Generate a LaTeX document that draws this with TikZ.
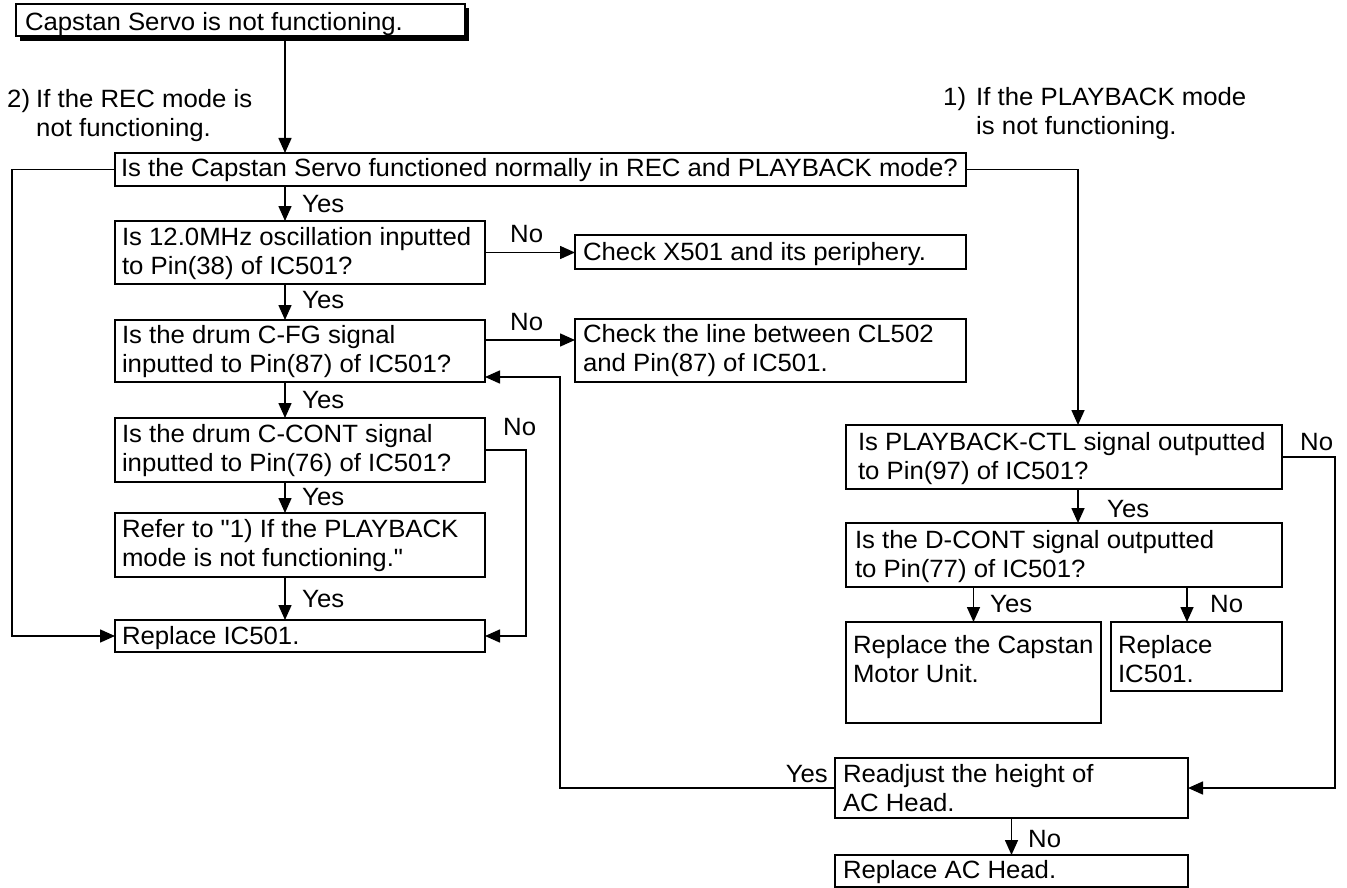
\documentclass[tikz,border=0pt]{standalone}
\usepackage{fontspec}
\setmainfont{Liberation Sans}[FakeStretch=1.03,Ligatures=TeXOff]
\usetikzlibrary{arrows.meta,calc}
\newcommand\twol[2]{\vtop{\hbox{#1}\hbox{#2}}}
\begin{document}
\begin{tikzpicture}[x=1pt,y=-1pt,
  font=\fontsize{25}{29}\selectfont,
  box/.style={draw=black, line width=1.6pt, fill=white, inner sep=0pt, outer sep=0pt, anchor=north west},
  txt/.style={anchor=base west, inner sep=0pt, outer sep=0pt},
  lbl/.style={anchor=base west, inner sep=0pt},
  arr/.style={line width=1.6pt, -{Triangle[length=15pt,width=13pt]}},
  ln/.style={line width=1.6pt}]
\useasboundingbox (0,0) rectangle (1347,888);
\newcommand\bx[5]{\node[box, minimum width=#4-#2, minimum height=#5-#3] (#1) at (#2,#3) {};}
% top box with shadow
\fill[black] (20,8) rectangle (469,41);
\bx{top}{16}{4}{465}{36}
\node[txt] at ($(top.north west)+(9,27)$) {Capstan Servo is not functioning.};
% left column
\bx{main}{115}{153}{966}{186}
\node[txt] at ($(main.north west)+(6,23)$) {Is the Capstan Servo functioned normally in REC and PLAYBACK mode?};
\bx{b2}{115}{221}{485}{284}
\node[txt] at ($(b2.north west)+(7,24)$) {\twol{Is 12.0MHz oscillation inputted}{to Pin(38) of IC501?}};
\bx{x501}{575}{235}{966}{269}
\node[txt] at ($(x501.north west)+(8,25)$) {Check X501 and its periphery.};
\bx{b3}{115}{320}{485}{382}
\node[txt] at ($(b3.north west)+(7,23)$) {\twol{Is the drum C-FG signal}{inputted to Pin(87) of IC501?}};
\bx{chk}{575}{319}{966}{382}
\node[txt] at ($(chk.north west)+(8,23)$) {\twol{Check the line between CL502}{and Pin(87) of IC501.}};
\bx{b4}{115}{418}{485}{482}
\node[txt] at ($(b4.north west)+(7,24)$) {\twol{Is the drum C-CONT signal}{inputted to Pin(76) of IC501?}};
\bx{b5}{115}{513}{485}{577}
\node[txt] at ($(b5.north west)+(7,24)$) {\twol{Refer to "1) If the PLAYBACK}{mode is not functioning."}};
\bx{ric}{115}{620}{485}{652}
\node[txt] at ($(ric.north west)+(7,24)$) {Replace IC501.};
% right column
\bx{pb}{846}{425}{1282}{489}
\node[txt] at ($(pb.north west)+(12,25)$) {\twol{Is PLAYBACK-CTL signal outputted}{to Pin(97) of IC501?}};
\bx{dc}{846}{523}{1282}{587}
\node[txt] at ($(dc.north west)+(9,25)$) {\twol{Is the D-CONT signal outputted}{to Pin(77) of IC501?}};
\bx{cap}{846}{622}{1101}{723}
\node[txt] at ($(cap.north west)+(7,31)$) {\twol{Replace the Capstan}{Motor Unit.}};
\bx{ric2}{1111}{622}{1282}{691}
\node[txt] at ($(ric2.north west)+(7,31)$) {\twol{Replace}{IC501.}};
\bx{rdj}{835}{758}{1188}{818}
\node[txt] at ($(rdj.north west)+(8,24)$) {\twol{Readjust the height of}{AC Head.}};
\bx{ach}{835}{855}{1188}{887}
\node[txt] at ($(ach.north west)+(8,23)$) {Replace AC Head.};
% free labels
\node[lbl] (l2n) at (7,108) {2)};
\node[lbl] (l2) at (36,108) {\twol{If the REC mode is}{not functioning.}};
\node[lbl] (l1n) at (943,106) {1)};
\node[lbl] (l1) at (976,106) {\twol{If the PLAYBACK mode}{is not functioning.}};
% guide coordinates
\coordinate (cL) at (285,0);
\coordinate (cLL) at (12,0);
\coordinate (cR) at (526,0);
\coordinate (cP) at (1078,0);
\coordinate (cN) at (1187,0);
\coordinate (cRR) at (1335,0);
\coordinate (cY) at (560,377);
\coordinate (t1) at (285,41);
% connectors
\draw[arr] (t1) -- (t1 |- main.north);
\draw[arr] (main.south -| cL) -- (b2.north -| cL);
\node[lbl] at (302,212) {Yes};
\draw[arr] (b2.south -| cL) -- (b3.north -| cL);
\node[lbl] at (302,308) {Yes};
\draw[arr] (b3.south -| cL) -- (b4.north -| cL);
\node[lbl] at (302,408) {Yes};
\draw[arr] (b4.south -| cL) -- (b5.north -| cL);
\node[lbl] at (302,505) {Yes};
\draw[arr] (b5.south -| cL) -- (ric.north -| cL);
\node[lbl] at (302,607) {Yes};
\draw[arr] (b2.east) -- (x501.west |- b2.east);
\node[lbl] at (510,242) {No};
\draw[arr] ([yshift=-20pt]b3.north east) -- ([yshift=-21pt]chk.north west);
\node[lbl] at (510,330) {No};
\draw[arr] (b4.east) -| (cR |- ric.east) -- (ric.east);
\node[lbl] at (503,435) {No};
\draw[arr] (main.west) -| (cLL |- ric.west) -- (ric.west);
\draw[arr] (main.east) -| (cP |- pb.north);
\draw[arr] (pb.south -| cP) -- (dc.north -| cP);
\node[lbl] at (1107,517) {Yes};
\draw[arr] (dc.south -| cap.north) -- (cap.north);
\node[lbl] at (990,612) {Yes};
\draw[arr] (dc.south -| cN) -- (ric2.north -| cN);
\node[lbl] at (1210,612) {No};
\draw[arr] (pb.east) -| (cRR |- rdj.east) -- (rdj.east);
\node[lbl] at (1300,450) {No};
\draw[arr] (rdj.west) -| (cY) -- (cY -| b3.east);
\node[anchor=base east, inner sep=0pt] at (828,782) {Yes};
\draw[arr] (rdj.south) -- (ach.north);
\node[lbl] at (1028,847) {No};
\end{tikzpicture}
\end{document}
